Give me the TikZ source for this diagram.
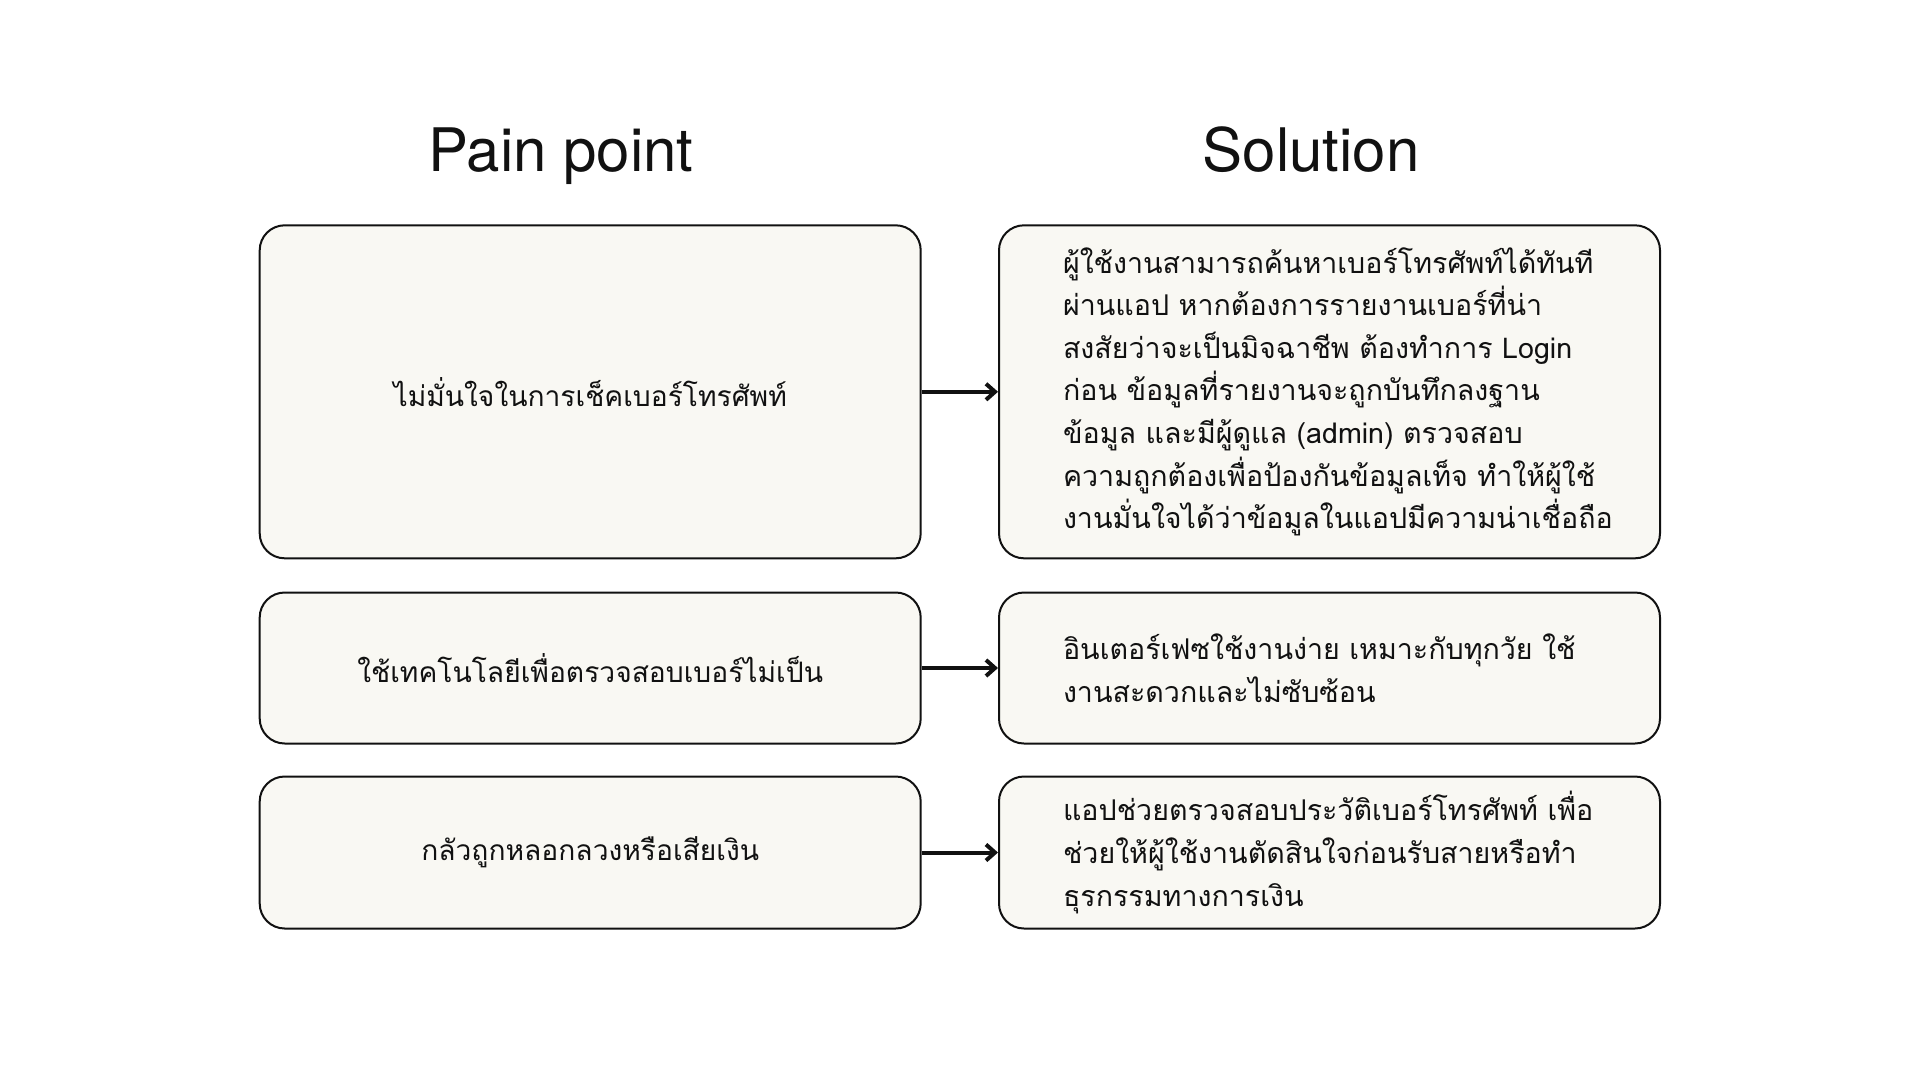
\documentclass[tikz,border=0pt]{standalone}
\usepackage{fontspec}
\setmainfont{TeX Gyre Heros}
\newfontfamily\thaifont[Script=Thai]{Loma}
\usetikzlibrary{arrows.meta}
\definecolor{boxfill}{HTML}{F9F8F3}
\definecolor{ink}{HTML}{111111}
\tikzset{
  card/.style={draw=ink, line width=2pt, fill=boxfill, rounded corners=25pt,
    minimum width=661pt, inner sep=0pt, text=ink},
  painbox/.style={card, align=center, font={\thaifont\fontsize{28.2}{42.6}\selectfont}},
  solbox/.style={card, align=left, text width=533pt, font={\thaifont\fontsize{28.6}{42.6}\selectfont}},
  title/.style={font={\fontsize{60}{70}\selectfont}, text=ink, inner sep=0pt, anchor=base},
  link/.style={draw=ink, line width=4pt, -{Straight Barb[length=9pt,width=16pt,line width=4pt]}}
}
\begin{document}
\begin{tikzpicture}[x=1pt,y=-1pt]
\useasboundingbox[fill=white] (0,0) rectangle (1920,1080);
\node[title] (tp) at (561,171) {Pain point};
\node[title] (ts) at (1311,171) {Solution};
\node[painbox, minimum height=333pt] (p1) at (590.2,391.8) {ไม่มั่นใจในการเช็คเบอร์โทรศัพท์};
\node[painbox, minimum height=151pt] (p2) at (590.2,668) {ใช้เทคโนโลยีเพื่อตรวจสอบเบอร์ไม่เป็น};
\node[painbox, minimum height=152pt] (p3) at (590.2,852.5) {กลัวถูกหลอกลวงหรือเสียเงิน};
\node[solbox, minimum height=333pt] (s1) at (1329.5,391.8) {ผู้ใช้งานสามารถค้นหาเบอร์โทรศัพท์ได้ทันที\\ผ่านแอป หากต้องการรายงานเบอร์ที่น่า\\สงสัยว่าจะเป็นมิจฉาชีพ ต้องทำการ Login\\ก่อน ข้อมูลที่รายงานจะถูกบันทึกลงฐาน\\ข้อมูล และมีผู้ดูแล (admin) ตรวจสอบ\\ความถูกต้องเพื่อป้องกันข้อมูลเท็จ ทำให้ผู้ใช้\\งานมั่นใจได้ว่าข้อมูลในแอปมีความน่าเชื่อถือ};
\node[solbox, minimum height=151pt] (s2) at (1329.5,668) {อินเตอร์เฟซใช้งานง่าย เหมาะกับทุกวัย ใช้\\งานสะดวกและไม่ซับซ้อน};
\node[solbox, minimum height=152pt] (s3) at (1329.5,852.5) {แอปช่วยตรวจสอบประวัติเบอร์โทรศัพท์ เพื่อ\\ช่วยให้ผู้ใช้งานตัดสินใจก่อนรับสายหรือทำ\\ธุรกรรมทางการเงิน};
\draw[link] (p1.east) -- (s1.west);
\draw[link] (p2.east) -- (s2.west);
\draw[link] (p3.east) -- (s3.west);
\end{tikzpicture}
\end{document}
